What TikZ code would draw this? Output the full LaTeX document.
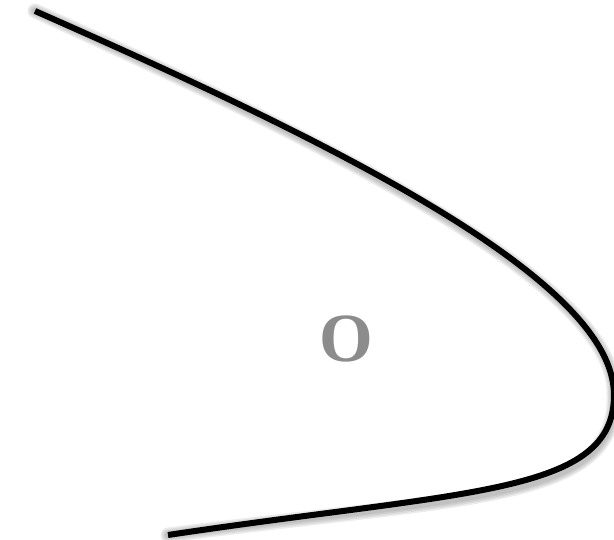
\documentclass[tikz,border=0pt]{standalone}
\usepackage{fontspec}
\newfontfamily\oserif{Liberation Serif}
\begin{document}
\begin{tikzpicture}[x=1pt,y=-1pt,
  curveline/.style={line width=6pt, line cap=butt, black},
  shadowline/.style={line cap=round, black!60, opacity=0.12},
  lbl/.style={font=\oserif\bfseries\fontsize{69}{69}\selectfont, text=black!45, inner sep=0pt}]
\useasboundingbox (0,0) rectangle (614,540);
\coordinate (s) at (35,11);
\coordinate (v) at (614,395);
\coordinate (e) at (168,535);
\def\curvepath{(s) .. controls (335,143) and (614,280) .. (v) .. controls (614,495) and (468,490) .. (e)}
\begin{scope}[shift={(4,6)}]
  \foreach \w in {15,12,9,6}{
    \draw[shadowline, line width=\w pt] \curvepath;
  }
\end{scope}
\draw[curveline] \curvepath;
\node[lbl] (O) at (346,339) {O};
\end{tikzpicture}
\end{document}
